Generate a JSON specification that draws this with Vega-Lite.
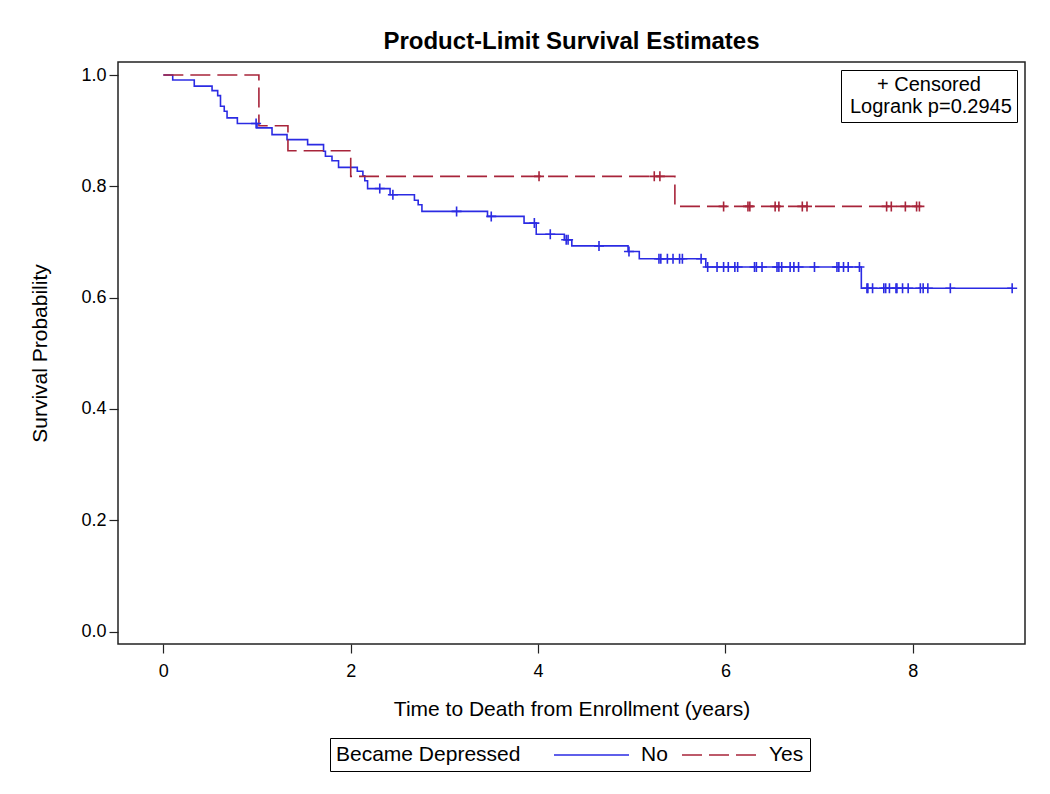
{
  "$schema": "https://vega.github.io/schema/vega-lite/v6.json",
  "width": 907,
  "height": 582,
  "autosize": {"type": "none"},
  "padding": {"left": 118, "top": 62, "right": 25, "bottom": 150},
  "background": "white",
  "title": {
    "text": "Product-Limit Survival Estimates",
    "font": "Liberation Sans",
    "fontSize": 24,
    "fontWeight": "bold",
    "color": "black",
    "anchor": "middle",
    "frame": "group",
    "baseline": "bottom",
    "offset": -19
  },
  "datasets": {
    "steps": [
      {"group": "No", "t": 0, "s": 1.0},
      {"group": "No", "t": 0.10, "s": 0.991},
      {"group": "No", "t": 0.33, "s": 0.980},
      {"group": "No", "t": 0.52, "s": 0.972},
      {"group": "No", "t": 0.58, "s": 0.963},
      {"group": "No", "t": 0.61, "s": 0.944},
      {"group": "No", "t": 0.65, "s": 0.935},
      {"group": "No", "t": 0.68, "s": 0.923},
      {"group": "No", "t": 0.79, "s": 0.913},
      {"group": "No", "t": 1.00, "s": 0.905},
      {"group": "No", "t": 1.16, "s": 0.893},
      {"group": "No", "t": 1.32, "s": 0.884},
      {"group": "No", "t": 1.54, "s": 0.875},
      {"group": "No", "t": 1.71, "s": 0.863},
      {"group": "No", "t": 1.73, "s": 0.854},
      {"group": "No", "t": 1.80, "s": 0.846},
      {"group": "No", "t": 1.87, "s": 0.834},
      {"group": "No", "t": 2.07, "s": 0.827},
      {"group": "No", "t": 2.13, "s": 0.819},
      {"group": "No", "t": 2.15, "s": 0.810},
      {"group": "No", "t": 2.18, "s": 0.796},
      {"group": "No", "t": 2.42, "s": 0.785},
      {"group": "No", "t": 2.68, "s": 0.775},
      {"group": "No", "t": 2.72, "s": 0.767},
      {"group": "No", "t": 2.76, "s": 0.755},
      {"group": "No", "t": 3.46, "s": 0.746},
      {"group": "No", "t": 3.85, "s": 0.734},
      {"group": "No", "t": 3.98, "s": 0.714},
      {"group": "No", "t": 4.28, "s": 0.704},
      {"group": "No", "t": 4.36, "s": 0.693},
      {"group": "No", "t": 4.96, "s": 0.683},
      {"group": "No", "t": 5.08, "s": 0.670},
      {"group": "No", "t": 5.79, "s": 0.655},
      {"group": "No", "t": 7.45, "s": 0.617},
      {"group": "No", "t": 9.06, "s": 0.617},
      {"group": "Yes", "t": 0, "s": 1.0},
      {"group": "Yes", "t": 1.02, "s": 0.909},
      {"group": "Yes", "t": 1.33, "s": 0.864},
      {"group": "Yes", "t": 2.00, "s": 0.818},
      {"group": "Yes", "t": 5.46, "s": 0.764},
      {"group": "Yes", "t": 8.07, "s": 0.764}
    ],
    "censored": [
      {"group": "No", "t": 0.99, "s": 0.913},
      {"group": "No", "t": 2.31, "s": 0.796},
      {"group": "No", "t": 2.45, "s": 0.785},
      {"group": "No", "t": 3.13, "s": 0.755},
      {"group": "No", "t": 3.50, "s": 0.746},
      {"group": "No", "t": 3.96, "s": 0.734},
      {"group": "No", "t": 4.13, "s": 0.714},
      {"group": "No", "t": 4.30, "s": 0.704},
      {"group": "No", "t": 4.32, "s": 0.704},
      {"group": "No", "t": 4.65, "s": 0.693},
      {"group": "No", "t": 4.97, "s": 0.683},
      {"group": "No", "t": 5.29, "s": 0.670},
      {"group": "No", "t": 5.31, "s": 0.670},
      {"group": "No", "t": 5.38, "s": 0.670},
      {"group": "No", "t": 5.44, "s": 0.670},
      {"group": "No", "t": 5.51, "s": 0.670},
      {"group": "No", "t": 5.54, "s": 0.670},
      {"group": "No", "t": 5.74, "s": 0.670},
      {"group": "No", "t": 5.81, "s": 0.655},
      {"group": "No", "t": 5.91, "s": 0.655},
      {"group": "No", "t": 5.98, "s": 0.655},
      {"group": "No", "t": 6.03, "s": 0.655},
      {"group": "No", "t": 6.10, "s": 0.655},
      {"group": "No", "t": 6.13, "s": 0.655},
      {"group": "No", "t": 6.31, "s": 0.655},
      {"group": "No", "t": 6.33, "s": 0.655},
      {"group": "No", "t": 6.39, "s": 0.655},
      {"group": "No", "t": 6.55, "s": 0.655},
      {"group": "No", "t": 6.57, "s": 0.655},
      {"group": "No", "t": 6.60, "s": 0.655},
      {"group": "No", "t": 6.69, "s": 0.655},
      {"group": "No", "t": 6.73, "s": 0.655},
      {"group": "No", "t": 6.78, "s": 0.655},
      {"group": "No", "t": 6.95, "s": 0.655},
      {"group": "No", "t": 7.19, "s": 0.655},
      {"group": "No", "t": 7.21, "s": 0.655},
      {"group": "No", "t": 7.26, "s": 0.655},
      {"group": "No", "t": 7.31, "s": 0.655},
      {"group": "No", "t": 7.43, "s": 0.655},
      {"group": "No", "t": 7.51, "s": 0.617},
      {"group": "No", "t": 7.52, "s": 0.617},
      {"group": "No", "t": 7.57, "s": 0.617},
      {"group": "No", "t": 7.69, "s": 0.617},
      {"group": "No", "t": 7.71, "s": 0.617},
      {"group": "No", "t": 7.75, "s": 0.617},
      {"group": "No", "t": 7.82, "s": 0.617},
      {"group": "No", "t": 7.83, "s": 0.617},
      {"group": "No", "t": 7.89, "s": 0.617},
      {"group": "No", "t": 7.95, "s": 0.617},
      {"group": "No", "t": 8.08, "s": 0.617},
      {"group": "No", "t": 8.11, "s": 0.617},
      {"group": "No", "t": 8.16, "s": 0.617},
      {"group": "No", "t": 8.40, "s": 0.617},
      {"group": "No", "t": 9.06, "s": 0.617},
      {"group": "Yes", "t": 4.01, "s": 0.818},
      {"group": "Yes", "t": 5.24, "s": 0.818},
      {"group": "Yes", "t": 5.30, "s": 0.818},
      {"group": "Yes", "t": 5.98, "s": 0.764},
      {"group": "Yes", "t": 6.24, "s": 0.764},
      {"group": "Yes", "t": 6.26, "s": 0.764},
      {"group": "Yes", "t": 6.53, "s": 0.764},
      {"group": "Yes", "t": 6.57, "s": 0.764},
      {"group": "Yes", "t": 6.82, "s": 0.764},
      {"group": "Yes", "t": 6.87, "s": 0.764},
      {"group": "Yes", "t": 7.72, "s": 0.764},
      {"group": "Yes", "t": 7.77, "s": 0.764},
      {"group": "Yes", "t": 7.92, "s": 0.764},
      {"group": "Yes", "t": 8.04, "s": 0.764},
      {"group": "Yes", "t": 8.07, "s": 0.764}
    ],
    "note": [
      {"note": "Logrank p=0.2945"}
    ]
  },
  "encoding": {
    "x": {
      "field": "t",
      "type": "quantitative",
      "scale": {"domain": [-0.484, 9.197], "nice": false, "zero": false},
      "axis": {
        "title": "Time to Death from Enrollment (years)",
        "values": [0, 2, 4, 6, 8],
        "format": "d",
        "labelPadding": 9,
        "titlePadding": 18
      }
    },
    "y": {
      "field": "s",
      "type": "quantitative",
      "scale": {"domain": [-0.0222, 1.0234], "nice": false, "zero": false},
      "axis": {
        "title": "Survival Probability",
        "values": [0, 0.2, 0.4, 0.6, 0.8, 1.0],
        "format": ".1f",
        "labelPadding": 3,
        "titlePadding": 30
      }
    }
  },
  "layer": [
    {
      "data": {"name": "steps"},
      "mark": {"type": "line", "interpolate": "step-after", "strokeWidth": 1.6},
      "encoding": {
        "color": {
          "field": "group",
          "type": "nominal",
          "scale": {"domain": ["No", "Yes"], "range": ["#2b2be3", "#a8243a"]},
          "legend": {
            "title": "Became Depressed",
            "orient": "none",
            "legendX": 212,
            "legendY": 676,
            "direction": "horizontal",
            "titleOrient": "left",
            "titleLimit": 500,
            "titlePadding": 32,
            "titleFontSize": 21,
            "titleFontWeight": "normal",
            "titleColor": "black",
            "titleBaseline": "middle",
            "labelFontSize": 21,
            "labelColor": "black",
            "labelLimit": 300,
            "labelOffset": 66,
            "columnPadding": 10,
            "symbolType": "M-1,0L6.5,0",
            "symbolSize": 400,
            "symbolStrokeWidth": 1.6,
            "strokeColor": "black",
            "padding": 6
          }
        },
        "strokeDash": {
          "field": "group",
          "type": "nominal",
          "scale": {"domain": ["No", "Yes"], "range": [[1, 0], [20, 7]]},
          "legend": {
            "title": "Became Depressed",
            "orient": "none",
            "legendX": 212,
            "legendY": 676,
            "direction": "horizontal",
            "titleOrient": "left",
            "titleLimit": 500,
            "titlePadding": 32,
            "titleFontSize": 21,
            "titleFontWeight": "normal",
            "titleColor": "black",
            "titleBaseline": "middle",
            "labelFontSize": 21,
            "labelColor": "black",
            "labelLimit": 300,
            "labelOffset": 66,
            "columnPadding": 10,
            "symbolType": "M-1,0L6.5,0",
            "symbolSize": 400,
            "symbolStrokeWidth": 1.6,
            "strokeColor": "black",
            "padding": 6
          }
        }
      }
    },
    {
      "data": {"name": "censored"},
      "mark": {
        "type": "point",
        "shape": "M0,-1L0,1M-1,0L1,0",
        "filled": false,
        "size": 100,
        "strokeWidth": 1.6,
        "opacity": 1
      },
      "encoding": {
        "color": {"field": "group", "type": "nominal", "legend": null}
      }
    },
    {
      "data": {"name": "note"},
      "mark": {"type": "point", "opacity": 0},
      "encoding": {
        "x": {"value": 0},
        "y": {"value": 0},
        "shape": {
          "field": "note",
          "type": "nominal",
          "legend": {
            "title": "+ Censored",
            "orient": "top-right",
            "offset": 8,
            "titleAnchor": "middle",
            "titleAlign": "center",
            "titleFontSize": 20,
            "titleFontWeight": "normal",
            "titleColor": "black",
            "titlePadding": 2,
            "labelFontSize": 20,
            "labelColor": "black",
            "labelLimit": 400,
            "labelOffset": -16,
            "symbolOpacity": 0,
            "symbolSize": 1,
            "symbolStrokeWidth": 0,
            "strokeColor": "black",
            "padding": 5
          }
        }
      }
    }
  ],
  "config": {
    "font": "Liberation Sans",
    "view": {"stroke": "#222", "strokeWidth": 1.5},
    "axis": {
      "grid": false,
      "domain": false,
      "ticks": true,
      "tickColor": "#222",
      "tickSize": 9,
      "tickWidth": 1.2,
      "labelFont": "Liberation Sans",
      "labelFontSize": 18,
      "labelColor": "black",
      "titleFont": "Liberation Sans",
      "titleFontSize": 21,
      "titleFontWeight": "normal",
      "titleColor": "black"
    },
    "legend": {
      "labelFont": "Liberation Sans",
      "titleFont": "Liberation Sans"
    }
  }
}
